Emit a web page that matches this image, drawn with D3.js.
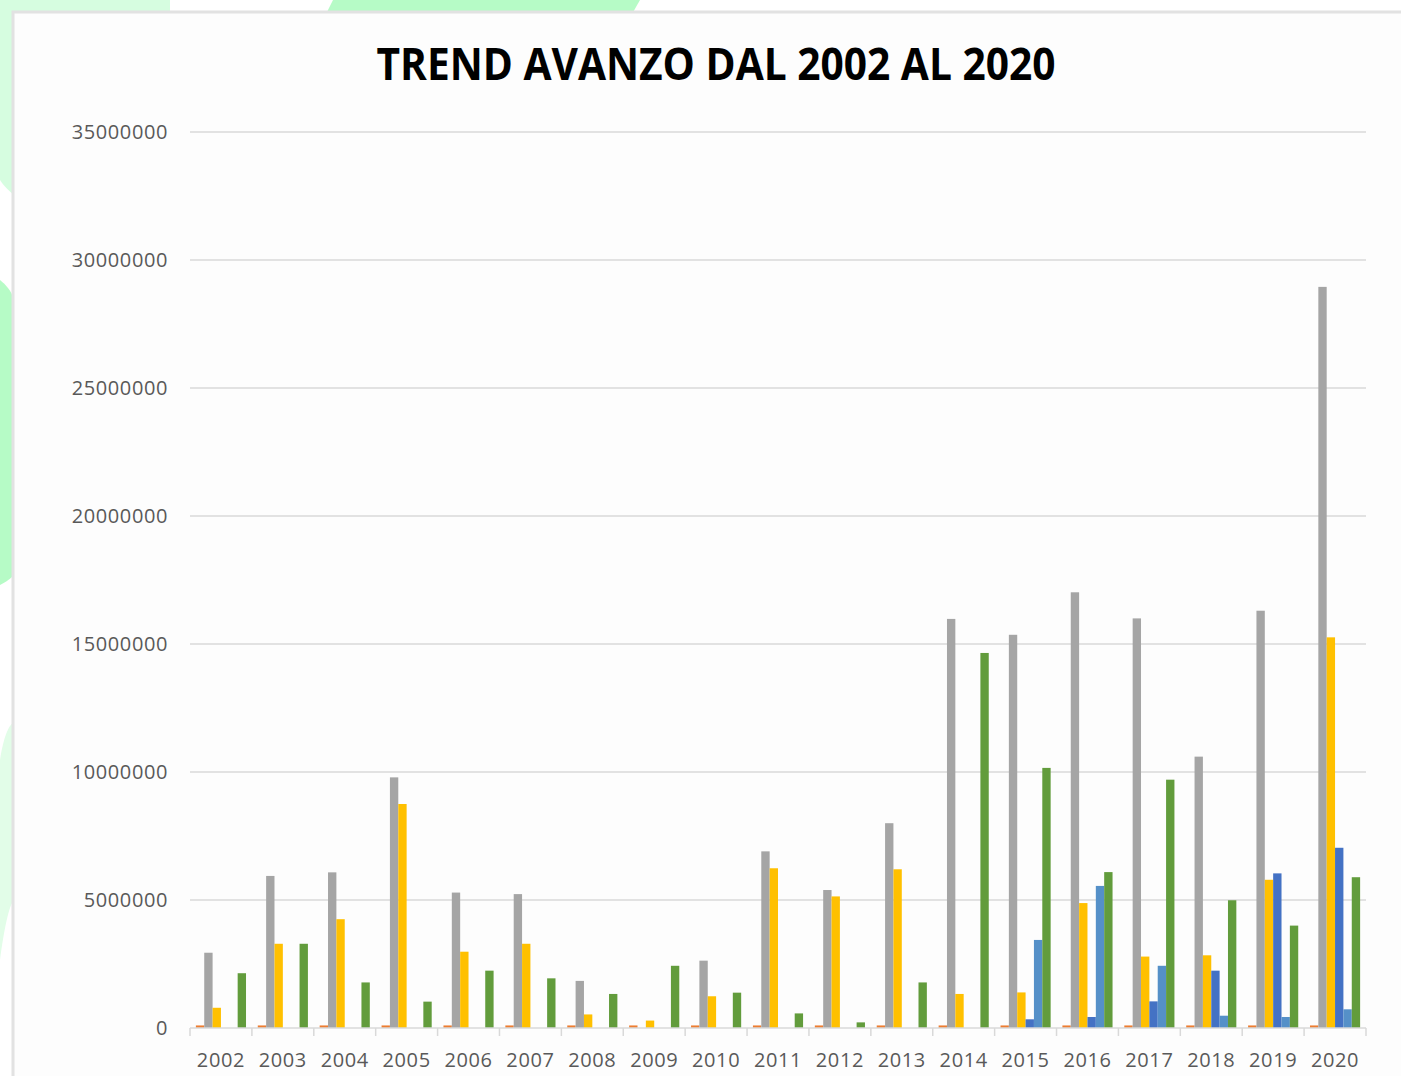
<!DOCTYPE html>
<html><head><meta charset="utf-8">
<script src="https://cdn.jsdelivr.net/npm/d3@7"></script>
<style>html,body{margin:0;padding:0;background:#fff;overflow:hidden}</style>
</head><body>
<svg id="c" width="1401" height="1076"></svg>
<script>
const years = ["2002","2003","2004","2005","2006","2007","2008","2009","2010","2011","2012","2013","2014","2015","2016","2017","2018","2019","2020"];
const seriesNames = ["s1","s2","s3","s4","s5","s6"];
const s1 = [100000,100000,100000,100000,100000,100000,100000,100000,100000,100000,100000,100000,100000,100000,100000,100000,100000,100000,100000];
const s2 = [2940000,5940000,6080000,9790000,5290000,5230000,1840000,0,2630000,6900000,5390000,8000000,15980000,15360000,17020000,16000000,10600000,16300000,28950000];
const s3 = [790000,3290000,4250000,8750000,2980000,3290000,530000,290000,1240000,6240000,5140000,6200000,1330000,1390000,4880000,2790000,2840000,5790000,15260000];
const s4 = [0,0,0,0,0,0,0,0,0,0,0,0,0,340000,430000,1040000,2240000,6040000,7040000];
const s5 = [0,0,0,0,0,0,0,0,0,0,0,0,0,3440000,5550000,2430000,480000,430000,730000];
const s6 = [2140000,3290000,1780000,1030000,2240000,1940000,1330000,2430000,1380000,570000,220000,1780000,14650000,10160000,6090000,9700000,4990000,4000000,5890000];
const yTicks = [0,5000000,10000000,15000000,20000000,25000000,30000000,35000000];
const title = "TREND AVANZO DAL 2002 AL 2020";

const colors = ["#ED7D31","#A5A5A5","#FFC000","#4472C4","#5590C8","#629C3C"];
const allSeries = [s1,s2,s3,s4,s5,s6];

const svg = d3.select("#c");

// background decorations
const bg = svg.append("g");
bg.append("rect").attr("x",0).attr("y",0).attr("width",170).attr("height",14).attr("fill","#d6fde0");
bg.append("path").attr("d","M333,0 L640,0 L632,14 L326,14 Z").attr("fill","#b6fbc6");
bg.append("path").attr("d","M0,0 L14,0 L14,195 C8,190 3,185 0,180 Z").attr("fill","#d6fde0");
bg.append("path").attr("d","M0,280 C6,285 11,290 14,300 L14,575 C9,580 4,583 0,585 Z").attr("fill","#b6fbc6");
bg.append("path").attr("d","M0,760 C4,735 9,725 14,722 L14,900 C9,905 4,930 0,960 Z").attr("fill","#e2fde8");

// panel
svg.append("rect").attr("x",13).attr("y",12).attr("width",1395).attr("height",1070)
  .attr("fill","#fdfdfd").attr("stroke","#e2e2e2").attr("stroke-width",3);

const x0 = d3.scaleBand().domain(years).range([190,1366]).paddingInner(0.19).paddingOuter(0.095);
const x1 = d3.scaleBand().domain(seriesNames).range([0,x0.bandwidth()]).padding(0);
const y = d3.scaleLinear().domain([0,35000000]).range([1028,132]);

// grid
svg.append("g").selectAll("line").data(yTicks.filter(d=>d>0)).join("line")
  .attr("x1",190).attr("x2",1366).attr("y1",d=>y(d)).attr("y2",d=>y(d))
  .attr("stroke","#d9d9d9").attr("stroke-width",1.5);

// y axis labels
const yAxis = d3.axisLeft(y).tickValues(yTicks).tickSize(0).tickPadding(0).tickFormat(d3.format("d"));
const yg = svg.append("g").attr("transform","translate(168,0)").call(yAxis);
yg.select(".domain").remove();
yg.selectAll("text").attr("font-family","'Open Sans', sans-serif").attr("font-size",20)
  .attr("fill","#595959").attr("letter-spacing","0.6px");

// bars
const groups = svg.append("g").selectAll("g").data(years).join("g")
  .attr("transform",d=>`translate(${x0(d)},0)`);
groups.selectAll("rect").data((d,i)=>allSeries.map((s,k)=>({k,v:s[i]}))).join("rect")
  .attr("x",d=>x1(seriesNames[d.k])).attr("width",x1.bandwidth())
  .attr("y",d=>y(d.v)).attr("height",d=>y(0)-y(d.v))
  .attr("fill",d=>colors[d.k]);

// x axis
const xAxis = d3.axisBottom(x0).tickSize(0).tickPadding(0);
const xg = svg.append("g").attr("transform","translate(0,1028)").call(xAxis);
xg.select(".domain").attr("stroke","#d9d9d9").attr("stroke-width",1.5).attr("d","M190,0H1366");
xg.selectAll("text").attr("font-family","'Open Sans', sans-serif").attr("font-size",20)
  .attr("fill","#595959").attr("letter-spacing","0.6px").attr("dy","0").attr("y",39);
// category boundary ticks
xg.append("g").selectAll("line").data(d3.range(years.length+1)).join("line")
  .attr("x1",i=>190+i*x0.step()).attr("x2",i=>190+i*x0.step())
  .attr("y1",0).attr("y2",8).attr("stroke","#d9d9d9").attr("stroke-width",1.5);

// title
svg.append("text").attr("x",716).attr("y",80).attr("text-anchor","middle")
  .attr("font-family","'Open Sans', sans-serif").attr("font-weight","bold").attr("font-size",45)
  .attr("fill","#000").attr("textLength",679).attr("lengthAdjust","spacingAndGlyphs")
  .text(title);
</script>
</body></html>
